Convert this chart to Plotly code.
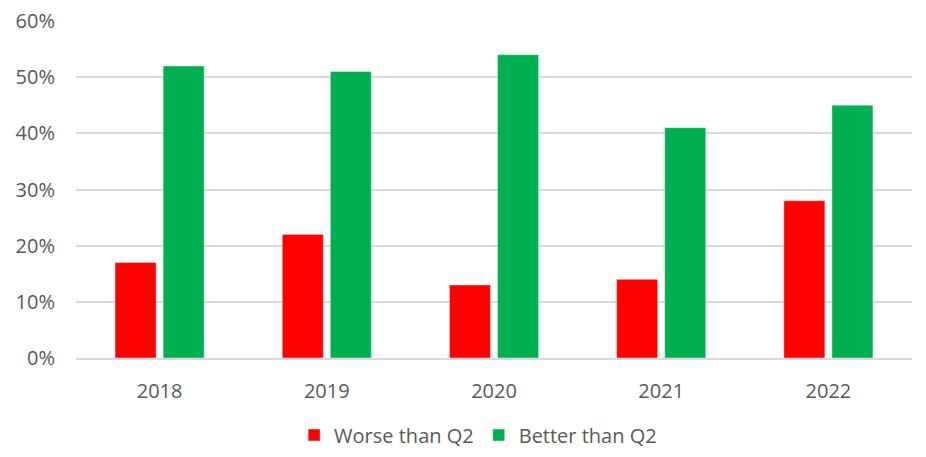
import plotly.graph_objects as go

years = ["2018", "2019", "2020", "2021", "2022"]
worse = [0.17, 0.22, 0.13, 0.14, 0.28]
better = [0.52, 0.51, 0.54, 0.41, 0.45]
series_names = ["Worse than Q2", "Better than Q2"]
colors = ["#FF0000", "#00B050"]
y_ticks = [0, 0.1, 0.2, 0.3, 0.4, 0.5, 0.6]

fig = go.Figure()
fig.add_trace(go.Bar(x=years, y=worse, name=series_names[0], marker_color=colors[0]))
fig.add_trace(go.Bar(x=years, y=better, name=series_names[1], marker_color=colors[1]))

font = dict(family="Open Sans, Liberation Sans, sans-serif", size=20, color="#595959")
fig.update_layout(
    width=918, height=457,
    margin=dict(l=68, r=14, t=13, b=106),
    paper_bgcolor="white", plot_bgcolor="white",
    barmode="group", bargap=0.425, bargroupgap=0.146,
    font=font,
    legend=dict(orientation="h", x=0.481, xanchor="center", y=-0.225, yanchor="middle",
                font=font, itemwidth=30, traceorder="normal"),
    xaxis=dict(showgrid=False, showline=True, linecolor="#D9D9D9", linewidth=1.5,
               ticks="", tickfont=font, automargin=False, ticklabelstandoff=14),
    yaxis=dict(range=[0, 0.6], tickvals=y_ticks, tickformat=".0%", showgrid=True,
               gridcolor="#D9D9D9", gridwidth=1.5, zeroline=False, ticks="",
               ticklabelstandoff=20, tickfont=font, automargin=False,
               ticklabeloverflow="allow"),
)
fig.write_html("out.html")
